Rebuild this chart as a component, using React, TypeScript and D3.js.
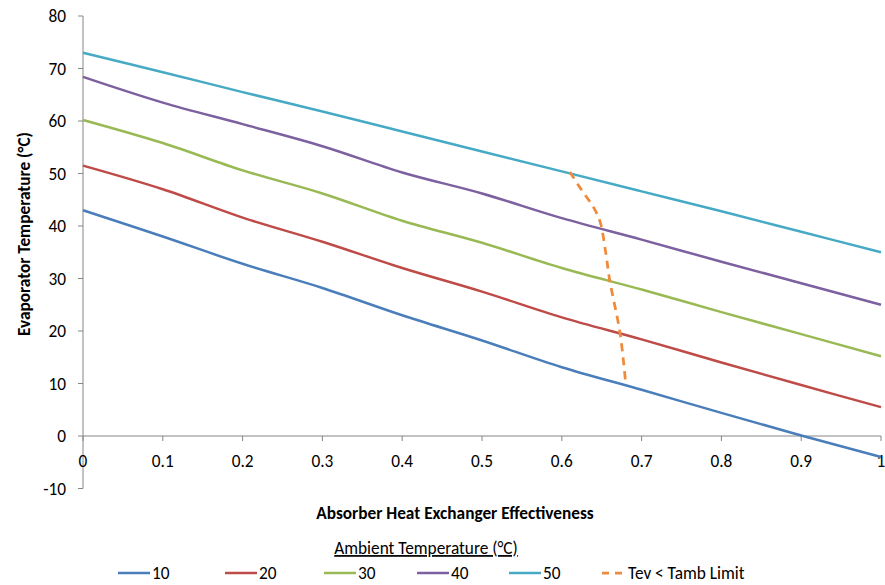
import React from "react";
import * as d3 from "d3";

const effectiveness = [0, 0.1, 0.2, 0.3, 0.4, 0.5, 0.6, 0.7, 0.8, 0.9, 1];
const seriesNames = ["10", "20", "30", "40", "50"];
const t10 = [43, 38, 32.8, 28.2, 23, 18.2, 13.1, 8.8, 4.4, 0.1, -4];
const t20 = [51.5, 47, 41.6, 37, 32, 27.5, 22.6, 18.4, 14, 9.7, 5.5];
const t30 = [60.2, 55.8, 50.6, 46.2, 41, 36.8, 32, 27.9, 23.6, 19.4, 15.2];
const t40 = [68.4, 63.5, 59.4, 55.2, 50.2, 46.2, 41.5, 37.4, 33.2, 29.1, 25];
const t50 = [73, 69.3, 65.5, 61.8, 58, 54.2, 50.4, 46.6, 42.8, 38.9, 35];
const limitX = [0.61, 0.625, 0.64, 0.648, 0.655, 0.66, 0.673, 0.68];
const limitY = [50.3, 46.8, 43.5, 40.8, 35, 29.7, 19.6, 10.1];
const xTicks = [0, 0.1, 0.2, 0.3, 0.4, 0.5, 0.6, 0.7, 0.8, 0.9, 1];
const yTicks = [-10, 0, 10, 20, 30, 40, 50, 60, 70, 80];
const limitName = "Tev < Tamb Limit";

const colors = ["#4A7EBB", "#BE4B48", "#98B954", "#7D60A0", "#46AAC5"];
const limitColor = "#EE8A3C";
const font = "Carlito, Calibri, Lato, 'Liberation Sans', sans-serif";
const fs = 17.3;

export default function App() {
  const x = d3.scaleLinear().domain([0, 1]).range([83, 881]);
  const y = d3.scaleLinear().domain([-10, 80]).range([488.5, 16]);
  const all = [t10, t20, t30, t40, t50];
  const line = d3
    .line<[number, number]>()
    .x((d) => x(d[0]))
    .y((d) => y(d[1]))
    .curve(d3.curveCatmullRom.alpha(0.5));
  const limitPts: [number, number][] = limitX.map((v, i) => [v, limitY[i]]);
  const legendX = [118, 225, 324, 417, 509];
  const legY = 573;
  const axisColor = "#868686";
  return (
    <svg width={885} height={585} style={{ position: "absolute", left: 0, top: 0 }} fontFamily={font}>
      <rect width={885} height={585} fill="#fff" />
      {/* y axis */}
      <line x1={x(0)} x2={x(0)} y1={y(80)} y2={y(-10)} stroke={axisColor} strokeWidth={1} />
      {yTicks.map((t) => (
        <g key={t}>
          <line x1={x(0) - 5} x2={x(0)} y1={y(t)} y2={y(t)} stroke={axisColor} />
          <text x={66} y={y(t)} dy="0.35em" textAnchor="end" fontSize={fs} fill="#000">
            {t}
          </text>
        </g>
      ))}
      {/* x axis at 0 */}
      <line x1={x(0)} x2={x(1)} y1={y(0)} y2={y(0)} stroke={axisColor} />
      {xTicks.map((t) => (
        <g key={t}>
          <line x1={x(t)} x2={x(t)} y1={y(0)} y2={y(0) + 5} stroke={axisColor} />
          <text x={x(t)} y={y(0) + 25} dy="0.35em" textAnchor="middle" fontSize={fs} fill="#000">
            {t}
          </text>
        </g>
      ))}
      {/* series */}
      {all.map((s, i) => (
        <path
          key={i}
          d={line(effectiveness.map((e, j) => [e, s[j]] as [number, number])) || ""}
          fill="none"
          stroke={colors[i]}
          strokeWidth={2.5}
        />
      ))}
      <path
        d={line(limitPts) || ""}
        fill="none"
        stroke={limitColor}
        strokeWidth={2.75}
        strokeDasharray="8,6"
      />
      {/* titles */}
      <text
        transform={`translate(24,234) rotate(-90)`}
        textAnchor="middle"
        fontWeight="bold"
        fontSize={fs}
        dy="0.35em"
      >
        Evaporator Temperature (°C)
      </text>
      <text x={455} y={513} dy="0.35em" textAnchor="middle" fontWeight="bold" fontSize={fs}>
        Absorber Heat Exchanger Effectiveness
      </text>
      <text x={426} y={548} dy="0.35em" textAnchor="middle" fontSize={fs} textDecoration="underline">
        Ambient Temperature (°C)
      </text>
      {/* legend */}
      {seriesNames.map((n, i) => (
        <g key={n}>
          <line x1={legendX[i]} x2={legendX[i] + 32} y1={legY} y2={legY} stroke={colors[i]} strokeWidth={2.5} />
          <text x={legendX[i] + 34} y={legY} dy="0.35em" fontSize={fs}>
            {n}
          </text>
        </g>
      ))}
      <line x1={602} x2={624} y1={legY} y2={legY} stroke={limitColor} strokeWidth={2.75} strokeDasharray="7,6" />
      <text x={628} y={legY} dy="0.35em" fontSize={fs}>
        {limitName}
      </text>
    </svg>
  );
}
